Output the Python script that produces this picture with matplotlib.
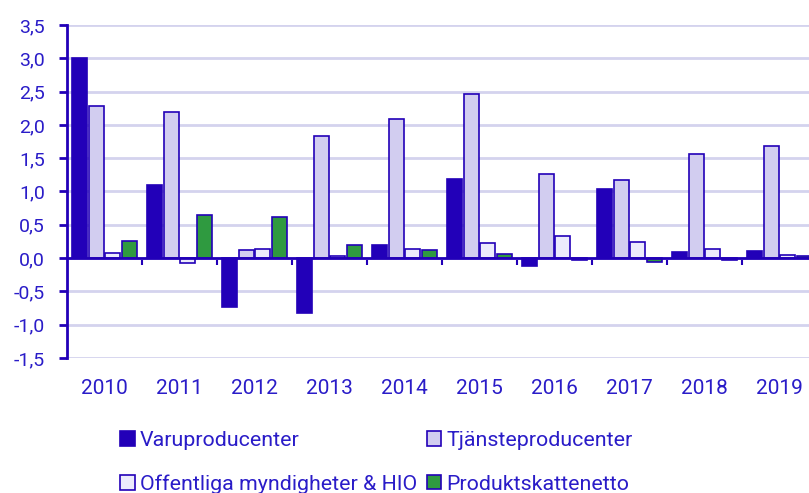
import matplotlib
matplotlib.use("Agg")
import matplotlib.pyplot as plt
import numpy as np

years = ["2010", "2011", "2012", "2013", "2014", "2015", "2016", "2017", "2018", "2019"]
varuproducenter = [3.00, 1.10, -0.73, -0.83, 0.19, 1.19, -0.12, 1.04, 0.09, 0.11]
tjansteproducenter = [2.29, 2.19, 0.12, 1.83, 2.09, 2.46, 1.27, 1.18, 1.56, 1.68]
offentliga = [0.07, -0.07, 0.14, 0.03, 0.13, 0.22, 0.33, 0.24, 0.13, 0.05]
produktskattenetto = [0.26, 0.65, 0.61, 0.19, 0.12, 0.06, -0.03, -0.06, -0.03, 0.03]

series_names = ["Varuproducenter", "Tjänsteproducenter",
                "Offentliga myndigheter & HIO", "Produktskattenetto"]
y_ticks = [-1.5, -1.0, -0.5, 0.0, 0.5, 1.0, 1.5, 2.0, 2.5, 3.0, 3.5]

blue = "#2200b8"
text_c = "#2a1cc8"
fills = ["#2200b8", "#d2cdf0", "#ecebfc", "#2f9a40"]

plt.rcParams['font.family'] = ['Roboto', 'DejaVu Sans']

fig = plt.figure(figsize=(8.09, 4.93), dpi=100)
ax = fig.add_axes([67/809, (493-358)/493, 750/809, (358-25)/493])

x = np.arange(len(years))
step = 0.223
width = 0.2
data = [varuproducenter, tjansteproducenter, offentliga, produktskattenetto]
handles = []
for k, (vals, name, fc) in enumerate(zip(data, series_names, fills)):
    b = ax.bar(x + (k - 1.5) * step, vals, width=width, color=fc,
               edgecolor=blue, linewidth=1.2, label=name, zorder=3)
    handles.append(b)

ax.set_xlim(-0.5, len(years) - 0.5)
ax.set_ylim(-1.5, 3.5)
ax.set_yticks(y_ticks)
ax.set_yticklabels([f"{v:.1f}".replace(".", ",") for v in y_ticks],
                   color=text_c, fontsize=14)
ax.yaxis.grid(True, color="#d4d3ee", linewidth=2, zorder=0)
ax.set_axisbelow(True)

for s in ["top", "right"]:
    ax.spines[s].set_visible(False)
ax.spines["left"].set_color(blue)
ax.spines["left"].set_linewidth(2)
ax.spines["bottom"].set_position(("data", 0))
ax.spines["bottom"].set_color(blue)
ax.spines["bottom"].set_linewidth(2)
ax.spines["bottom"].set_zorder(4)

ax.tick_params(axis="y", length=6, width=2, color=blue, pad=10)
ax.set_xticks(np.arange(0.5, len(years) - 0.5, 1.0))
ax.set_xticklabels([])
ax.tick_params(axis="x", length=5, width=1.5, color=blue, direction="out")

sec = ax.secondary_xaxis(0.0)
sec.set_xticks(x)
sec.set_xticklabels(years, color=text_c, fontsize=15)
sec.tick_params(length=0, pad=15)
sec.spines["bottom"].set_visible(False)

order = [0, 2, 1, 3]
leg = fig.legend(handles=[handles[i] for i in order],
                 labels=[series_names[i] for i in order], ncol=2,
                 loc="upper left", bbox_to_anchor=(120/809, (493-431)/493),
                 frameon=False, fontsize=15.4, handlelength=0.68,
                 handleheight=0.68, handletextpad=0.25, columnspacing=0.45,
                 labelspacing=1.15, borderaxespad=0.0, borderpad=0.0)
for t in leg.get_texts():
    t.set_color(text_c)

fig.savefig("out.png", dpi=100)
